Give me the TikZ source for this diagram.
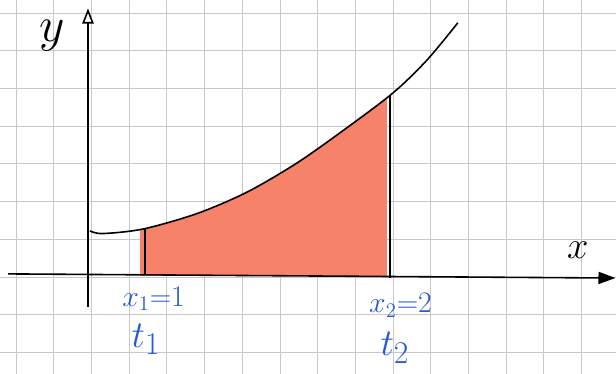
\documentclass[tikz,border=0pt]{standalone}
\usepackage{amsmath}
\usepackage{tikz}
\usetikzlibrary{arrows.meta}
\usepackage{xcolor}

\definecolor{penblue}{RGB}{38,88,215}
\definecolor{salmon}{RGB}{246,130,106}
\definecolor{paper}{RGB}{200,200,200}

\begin{document}
\begin{tikzpicture}[scale=1,
		gridline/.style={paper, line width=0.5pt},
		pen/.style={black, line width=1.2pt},
		lbl/.style={penblue, inner sep=1pt}]
		
		\useasboundingbox (-0.424,-0.549) rectangle (15.915,9.345);
		
		% grid paper
		\draw[gridline] (-0.5,-0.6) grid (16,9.4);
		
		% area under the curve
		\begin{scope}
			\clip plot[smooth] coordinates {(1.96,3.22) (2.30,3.15) (3.37,3.27) (4.80,3.68) (6.13,4.25) (7.45,5.02) (8.70,5.90) (10.0,6.88) (10.90,7.75) (11.72,8.74)} -- (11.72,0) -- (1.96,0) -- cycle;
			\fill[salmon] (3.30,2.02) rectangle (9.85,9);
		\end{scope}
		
		% axes
		\coordinate (yfoot) at (1.91,1.20);
		\coordinate (ytip) at (1.91,9.12);
		\coordinate (xfoot) at (-0.21,2.08);
		\coordinate (xtip) at (15.90,1.97);
		\draw[pen, -{Triangle[open, length=4mm, width=3mm]}] (yfoot) -- (ytip);
		\draw[pen, -{Triangle[length=4.5mm, width=3.2mm]}] (xfoot) -- (xtip);
		\node[scale=1.5, inner sep=0pt] (ylab) at (0.95,8.40) {\Huge $y$};
		\node[scale=1.4] (xlab) at (14.90,2.70) {\huge $x$};
		
		% the curve
		\draw[pen] plot[smooth] coordinates {(1.96,3.22) (2.30,3.15) (3.37,3.27) (4.80,3.68) (6.13,4.25) (7.45,5.02) (8.70,5.90) (10.0,6.88) (10.90,7.75) (11.72,8.74)};
		
		% bounds
		\coordinate (a1) at (3.42,2.07);
		\coordinate (f1) at (3.42,3.27);
		\coordinate (a2) at (9.92,1.98);
		\coordinate (f2) at (9.92,6.82);
		\draw[pen] (a1) -- (f1);
		\draw[pen] (a2) -- (f2);
		
		% labels under the axis
		\node[lbl, scale=1.3] (x1) at (3.65,1.42) {\LARGE $x_1{=}1$};
		\node[lbl, scale=1.15] (t1) at (3.45,0.35) {\Huge $t_1$};
		\node[lbl, scale=1.3] (x2) at (10.20,1.25) {\LARGE $x_2{=}2$};
		\node[lbl, scale=1.15] (t2) at (10.05,0.12) {\Huge $t_2$};
		
	\end{tikzpicture}
\end{document}
